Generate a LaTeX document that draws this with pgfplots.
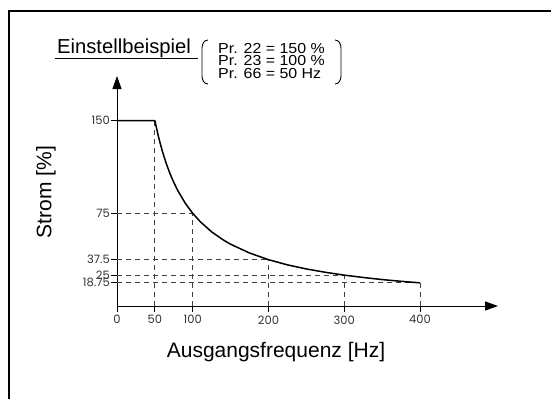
\documentclass[border=0pt]{standalone}
\usepackage{fontspec}
\setmainfont{Liberation Sans}
\newfontfamily\tickfont{Poppins}
\usepackage{pgfplots}
\pgfplotsset{compat=1.18}
\usetikzlibrary{arrows.meta}
\begin{document}
\begin{tikzpicture}[x=1pt,y=1pt]
\useasboundingbox (0,0) rectangle (551,-399);
\draw[line width=2pt] (8.5,-399) -- (8.5,-10.5) -- (551,-10.5);
\begin{axis}[at={(117pt,-306pt)}, anchor=south west, scale only axis,
  width=381pt, height=230pt, xmin=0, xmax=503, ymin=0, ymax=186.2,
  axis lines=left,
  axis line style={line width=1pt, -{Triangle[length=13pt,width=9pt]}},
  xtick={0,50,100,200,300,400}, xticklabels={0,50,100,200,300,400},
  ytick={18.75,25,37.5,75,150}, yticklabels={18.75,25,37.5,75,150},
  tick align=outside, major tick length=6pt,
  tick style={black, line width=0.8pt},
  ticklabel style={font=\tickfont\fontsize{11.5}{11.5}\selectfont, text=black!80},
  yticklabel style={inner sep=1pt},
  clip=false]
\addplot[black!75, line width=0.9pt, dash pattern=on 5pt off 4pt] coordinates {(50,0)(50,150)};
\addplot[black!75, line width=0.9pt, dash pattern=on 5pt off 4pt] coordinates {(100,0)(100,75)};
\addplot[black!75, line width=0.9pt, dash pattern=on 5pt off 4pt] coordinates {(200,0)(200,37.5)};
\addplot[black!75, line width=0.9pt, dash pattern=on 5pt off 4pt] coordinates {(300,0)(300,25)};
\addplot[black!75, line width=0.9pt, dash pattern=on 5pt off 4pt] coordinates {(400,0)(400,18.75)};
\addplot[black!75, line width=0.9pt, dash pattern=on 5pt off 4pt] coordinates {(0,75)(100,75)};
\addplot[black!75, line width=0.9pt, dash pattern=on 5pt off 4pt] coordinates {(0,37.5)(200,37.5)};
\addplot[black!75, line width=0.9pt, dash pattern=on 5pt off 4pt] coordinates {(0,25)(300,25)};
\addplot[black!75, line width=0.9pt, dash pattern=on 5pt off 4pt] coordinates {(0,18.75)(400,18.75)};
\addplot[black, line width=1.5pt, line join=round] coordinates {
(0,150)(50,150)(55,136.4)(60,125)(65,115.4)(70,107.1)(75,100)(80,93.75)
(90,83.3)(100,75)(110,68.2)(125,60)(140,53.6)(150,50)(175,42.9)(200,37.5)
(225,33.3)(250,30)(275,27.3)(300,25)(325,23.1)(350,21.4)(375,20)(400,18.75)};
\end{axis}
\node[font=\fontsize{21}{21}\selectfont] at (276,-352) {Ausgangsfrequenz [Hz]};
\node[rotate=90, font=\fontsize{21}{21}\selectfont] at (46,-192) {Strom [\%]};
\node[anchor=base west, inner sep=0, font=\fontsize{20.2}{20}\selectfont] at (57,-53) {Einstellbeispiel};
\draw[line width=0.8pt] (55,-58) -- (198,-58);
\node[anchor=base west, inner sep=0, xscale=1.1, font=\fontsize{14.5}{15}\selectfont] at (218,-53) {Pr. 22 = 150 \%};
\node[anchor=base west, inner sep=0, xscale=1.1, font=\fontsize{14.5}{15}\selectfont] at (218,-65.5) {Pr. 23 = 100 \%};
\node[anchor=base west, inner sep=0, xscale=1.1, font=\fontsize{14.5}{15}\selectfont] at (218,-78) {Pr. 66 = 50 Hz};
\draw[line width=0.9pt] (208,-40) to[out=180,in=90] (202,-48) -- (202,-76) to[out=-90,in=180] (208,-84);
\draw[line width=0.9pt] (335,-40) to[out=0,in=90] (341,-48) -- (341,-76) to[out=-90,in=0] (335,-84);
\end{tikzpicture}
\end{document}
